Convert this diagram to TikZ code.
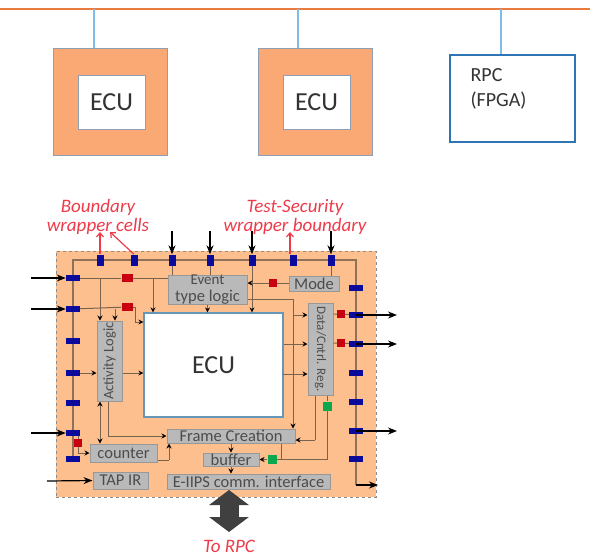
\documentclass[tikz,border=0pt]{standalone}
\usepackage{fontspec}
\setmainfont{Carlito}
\usetikzlibrary{arrows.meta,positioning}
\definecolor{busline}{HTML}{E97B3F}
\definecolor{stubline}{HTML}{7FBCE6}
\definecolor{ecuorange}{HTML}{FBA974}
\definecolor{ecuedge}{HTML}{8E9FB5}
\definecolor{rpcedge}{HTML}{2E75B6}
\definecolor{wrapfill}{HTML}{FDBF8D}
\definecolor{wireclr}{HTML}{7A634C}
\definecolor{boxfill}{HTML}{B9B9B9}
\definecolor{boxedge}{HTML}{989898}
\definecolor{cellblue}{HTML}{0A0A9C}
\definecolor{cellred}{HTML}{C8000F}
\definecolor{cellgreen}{HTML}{0BA84E}
\definecolor{notered}{HTML}{EE3B4A}
\tikzset{
    stub/.style={stubline,line width=1.5pt},
    ecuout/.style={draw=ecuedge,fill=ecuorange,line width=1pt,minimum width=114,minimum height=107},
    ecuin/.style={draw=ecuedge,fill=white,line width=1pt,minimum width=67,minimum height=54,
        text=black!80,font=\fontsize{26}{28}\selectfont},
    gbox/.style={draw=boxedge,fill=boxfill,line width=1pt,inner sep=0pt,text=black!70,
        font=\fontsize{16.5}{17}\selectfont},
    cellv/.style={draw=none,fill=cellblue,minimum width=7,minimum height=11,inner sep=0pt},
    cellh/.style={draw=none,fill=cellblue,minimum width=14,minimum height=5.5,inner sep=0pt},
    redcell/.style={fill=cellred,minimum width=8,minimum height=8,inner sep=0pt},
    greencell/.style={fill=cellgreen,minimum width=9,minimum height=9,inner sep=0pt},
    wire/.style={wireclr,line width=1pt},
    wiretip/.style={wire,-{Stealth[length=5,width=5,black]}},
    inarrow/.style={black,line width=1.2pt,-{Stealth[length=9,width=7]}},
    notearrow/.style={notered,line width=1.2pt,-{Straight Barb[length=4,width=7]}},
    notetext/.style={notered,font=\fontsize{19}{19}\selectfont\itshape,align=center,inner sep=0pt}
}
\begin{document}
\begin{tikzpicture}[x=1pt,y=-1pt]
    \useasboundingbox (0,0) rectangle (590,558);
    \coordinate (busl) at (0,9);
    \coordinate (busr) at (590,9);
    \draw[busline,line width=1.4pt] (busl)--(busr);
    \node[ecuout] (ecuA) at (110,101.5) {};
    \node[ecuout] (ecuB) at (315,101.5) {};
    \node[ecuin] (ecuAin) at (111.5,102) {ECU};
    \node[ecuin] (ecuBin) at (316.5,102) {ECU};
    \node[draw=rpcedge,fill=white,line width=1.2pt,minimum width=125,minimum height=87,
        inner sep=0pt] (rpc) at (512.5,98.5) {};
    \node[right=21pt of rpc.west,anchor=west,align=left,inner sep=0pt,
        font=\fontsize{20}{25}\selectfont,text=black!80,yshift=10pt] (rpctxt) {RPC\\(FPGA)};
    \draw[stub] (94,9 |- busl)--(94,9 |- ecuA.north);
    \draw[stub] (298,9 |- busl)--(298,9 |- ecuB.north);
    \draw[stub] (501,9 |- busl)--(501,9 |- rpc.north);

    \node[draw=black!45,dashed,line width=1pt,fill=wrapfill,minimum width=320,minimum height=246,
        inner sep=0pt] (wrap) at (216,374) {};
    \node[draw=stubline!80!black,fill=white,line width=1.2pt,minimum width=139,minimum height=104,
        text=black!80,font=\fontsize{26}{28}\selectfont] (ecuC) at (213.5,365) {ECU};

    % cells on the wrapper
    \foreach \n/\x in {1/100,2/134,3/172,4/210,5/252,6/293,7/331}
        \coordinate (t\n) at (\x,260);
    \foreach \n/\y in {1/278,2/309,3/341,4/373,5/403,6/433,7/459}
        \coordinate (l\n) at (73,\y);
    \foreach \n/\y in {1/288,2/315,3/344,4/373,5/402,6/431,7/459}
        \coordinate (r\n) at (356,\y);
    \coordinate (corl) at (73,260);
    \coordinate (corr) at (356,260);
    \coordinate (endr) at (356,485);
    \draw[wire,line width=1.3pt,wireclr!85!wrapfill] (l7)--(corl)--(corr)--(endr);

    % logic blocks
    \node[gbox,minimum width=79,minimum height=28,align=center] (evt) at (207.5,290)
        {\fontsize{15}{14}\selectfont Event\\type logic};
    \node[gbox,minimum width=50,minimum height=15] (mode) at (314,283.5) {Mode};
    \node[gbox,minimum width=25,minimum height=80] (act) at (109.5,361)
        {\rotatebox{90}{\fontsize{14.5}{16}\selectfont Activity Logic}};
    \node[gbox,minimum width=25,minimum height=92] (reg) at (320.5,349)
        {\rotatebox{-90}{\fontsize{13}{14}\selectfont Data/Cntrl. Reg.}};
    \node[gbox,minimum width=128,minimum height=14] (frame) at (231,436) {Frame Creation};
    \node[gbox,minimum width=67,minimum height=18] (cnt) at (123.5,453) {counter};
    \node[gbox,minimum width=56,minimum height=13] (buf) at (231,459.5) {buffer};
    \node[gbox,minimum width=55,minimum height=17] (tap) at (120.5,480.5) {TAP IR};
    \node[gbox,minimum width=163,minimum height=15] (iips) at (248.5,481.5) {E-IIPS comm. interface};

    \node[redcell,minimum width=11] (redA) at (127,278) {};
    \node[redcell,minimum width=11] (redB) at (127,307) {};
    \node[redcell] (redC) at (273,283) {};
    \node[redcell] (redD) at (341,314) {};
    \node[redcell] (redE) at (341,343) {};
    \node[redcell] (redF) at (78,443) {};
    \node[greencell] (grnA) at (327,406) {};
    \node[greencell] (grnB) at (272,459.5) {};

    % wires
    \coordinate (xa) at (115,309);
    \coordinate (xb) at (153,278);
    \coordinate (xc) at (293,299);
    \coordinate (xd) at (108,436);
    \coordinate (xe) at (169,460);
    \coordinate (xf) at (315,440);
    \coordinate (xg) at (281,460);
    \coordinate (xh) at (135,322);
    \coordinate (xi) at (283,374);
    \draw[wire] (l1)--(redA)--(evt.west |- l1);
    \draw[wire] (l2)--(redB);
    \draw[wiretip] (t1 |- l1)--(t1 |- act.north);
    \draw[wiretip] (xa)--(xa |- act.north);
    \draw[wiretip] (xb)--(xb |- ecuC.north);
    \draw[wire] (redB) -| (xh);
    \draw[wiretip] (xh)--(ecuC.west |- xh);
    \draw[wire] (t3)--(t3 |- evt.north);
    \draw[wire] (t4)--(t4 |- evt.north);
    \draw[wiretip] (t5)--(t5 |- ecuC.north);
    \draw[wire] (t7)--(t7 |- mode.north);
    \draw[wiretip] (evt.south)--(evt.south |- ecuC.north);
    \draw[wire] (mode.west |- redC)--(redC);
    \draw[wiretip] (redC)--(evt.east |- redC);
    \draw[wire] (evt.east |- xc)--(xc);
    \draw[wiretip] (xc)--(xc |- frame.north);
    \draw[wiretip] (xc |- r2)--(reg.west |- r2);
    \draw[wiretip] (ecuC.east |- r3)--(reg.west |- r3);
    \draw[wiretip] (xi)--(reg.west |- xi);
    \draw[wire] (reg.east |- redD)--(redD)--(r2);
    \draw[wire] (reg.east |- redE)--(redE)--(r3);
    \draw[wire] (reg.south -| xf)--(xf);
    \draw[wiretip] (xf)--(frame.east |- xf);
    \draw[wire] (reg.south -| grnA)--(grnA);
    \draw[wire] (grnA) |- (grnB);
    \draw[wire] (frame.south -| xg)--(xg);
    \draw[wiretip] (grnB)--(buf.east |- grnB);
    \draw[wiretip] (frame.south -| buf.north)--(buf.north);
    \draw[wiretip] (buf.south)--(buf.south |- iips.north);
    \draw[wiretip] (l4)--(act.west |- l4);
    \draw[wiretip] (act.east |- l4)--(ecuC.west |- l4);
    \draw[wire,{Stealth[length=5,width=5,black]}-{Stealth[length=5,width=5,black]}]
        (t1 |- act.south)--(t1 |- cnt.north);
    \draw[wire] (xd |- act.south)--(xd);
    \draw[wiretip] (xd)--(frame.west |- xd);
    \draw[wire] (cnt.east |- xe)--(xe);
    \draw[wiretip] (xe)--(xe |- frame.south);
    \draw[wire] (l6 -| redF)--(redF);
    \draw[wiretip] (redF) |- (cnt.west);

    \foreach \n in {1,...,7} {
        \node[cellv] (ct\n) at (t\n) {};
        \node[cellh] (cl\n) at (l\n) {};
        \node[cellh] (cr\n) at (r\n) {};
    }

    % arrows in and out
    \foreach \n/\x in {3/172,4/210,5/252,7/331} {
        \coordinate (in\n) at (\x,231);
        \draw[inarrow] (in\n)--(ct\n.north);
    }
    \foreach \n in {1,2,6} {
        \coordinate (inl\n) at (31,0 |- l\n);
        \draw[inarrow] (inl\n |- l\n)--(cl\n.west);
    }
    \coordinate (intap) at (47,481);
    \draw[inarrow] (intap)--(tap.west);
    \foreach \n in {2,3,6} {
        \coordinate (out\n) at (397,0 |- r\n);
        \draw[inarrow] (r\n)--(out\n |- r\n);
    }
    \coordinate (outend) at (378,485);
    \draw[inarrow] (endr)--(outend);

    % notes
    \node[notetext] (lblA) at (98,216.5) {Boundary\\wrapper cells};
    \node[notetext] (lblB) at (295,216.5) {Test-Security\\wrapper boundary};
    \node[notetext] (lblC) at (229,546) {To RPC};
    \coordinate (tipA) at (100,232);
    \coordinate (tipB) at (110,232);
    \coordinate (tipC) at (290,232);
    \draw[notearrow] (ct1.north)--(tipA);
    \draw[notearrow] (ct2.north)--(tipB);
    \draw[notearrow] (ct6.north -| tipC)--(tipC);

    \coordinate (linka) at (229,490);
    \coordinate (linkb) at (229,532);
    \draw[black!75,line width=19pt,{Triangle[length=15pt,width=39pt]}-{Triangle[length=15pt,width=39pt]}]
        (linka)--(linkb);
\end{tikzpicture}
\end{document}
